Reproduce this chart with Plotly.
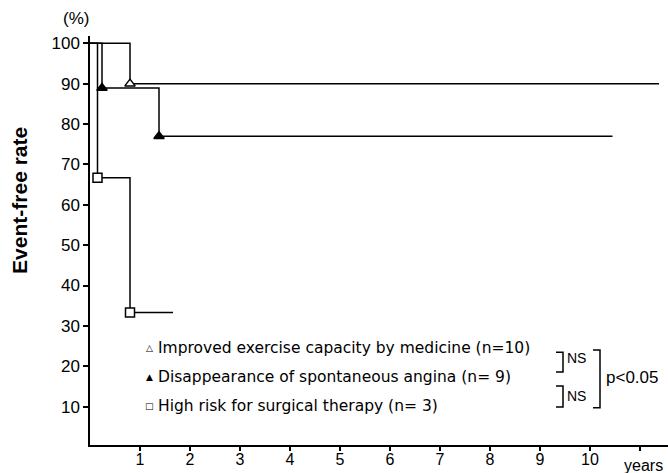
import plotly.graph_objects as go

# ---- data ----
improved_times = [0.8]
improved_rates = [90.0]
improved_end = 11.38

angina_times = [0.24, 1.38]
angina_rates = [88.9, 77.0]
angina_end = 10.45

highrisk_times = [0.15, 0.8]
highrisk_rates = [66.7, 33.3]
highrisk_end = 1.66

x_tick_vals = [1, 2, 3, 4, 5, 6, 7, 8, 9, 10, 11]
x_tick_text = ["1", "2", "3", "4", "5", "6", "7", "8", "9", "10", ""]
y_tick_vals = [10, 20, 30, 40, 50, 60, 70, 80, 90, 100]

legend_labels = [
    "Improved exercise capacity by medicine (n=10)",
    "Disappearance of spontaneous angina (n= 9)",
    "High risk for surgical therapy (n= 3)",
]
legend_symbols = ["△", "▲", "□"]

FONT = "Liberation Sans, Arial, Helvetica, sans-serif"
LFONT = "DejaVu Sans, Verdana, sans-serif"

fig = go.Figure()


def add_series(times, rates, end, symbol, fill):
    xs = [0] + times + [end]
    ys = [100] + rates + [rates[-1]]
    fig.add_trace(go.Scatter(x=xs, y=ys, mode="lines", line=dict(color="black", width=1.5, shape="hv"),
                             showlegend=False, hoverinfo="skip"))
    fig.add_trace(go.Scatter(x=times, y=rates, mode="markers",
                             marker=dict(symbol=symbol, size=9, color=fill, line=dict(color="black", width=1.5)),
                             showlegend=False))


add_series(highrisk_times, highrisk_rates, highrisk_end, "square", "white")
add_series(angina_times, angina_rates, angina_end, "triangle-up", "black")
add_series(improved_times, improved_rates, improved_end, "triangle-up", "white")

annotations = []
# legend texts
leg_y = [24.5, 17.3, 10.1]
for sym, lab, yy in zip(legend_symbols, legend_labels, leg_y):
    annotations.append(dict(x=1.18, y=yy, xref="x", yref="y", text=sym, showarrow=False,
                            xanchor="center", yanchor="middle", font=dict(family=LFONT, size=9, color="black")))
    annotations.append(dict(x=1.32, y=yy, xref="x", yref="y", text=lab, showarrow=False,
                            xanchor="left", yanchor="middle", font=dict(family=LFONT, size=15.5, color="black")))

# significance labels
annotations.append(dict(x=9.5, y=22.0, xref="x", yref="y", text="NS", showarrow=False, xanchor="left",
                        yanchor="middle", font=dict(family=FONT, size=14, color="black")))
annotations.append(dict(x=9.5, y=12.6, xref="x", yref="y", text="NS", showarrow=False, xanchor="left",
                        yanchor="middle", font=dict(family=FONT, size=14, color="black")))
annotations.append(dict(x=10.28, y=17.3, xref="x", yref="y", text="p<0.05", showarrow=False, xanchor="left",
                        yanchor="middle", font=dict(family=FONT, size=17, color="black")))

# axis texts
annotations.append(dict(x=-0.024, y=1.044, xref="paper", yref="paper", text="(%)", showarrow=False,
                        xanchor="center", yanchor="middle", font=dict(family=FONT, size=17, color="black")))
annotations.append(dict(x=0.958, y=-0.05, xref="paper", yref="paper", text="years", showarrow=False,
                        xanchor="center", yanchor="middle", font=dict(family=FONT, size=16, color="black")))
annotations.append(dict(x=-0.121, y=0.597, xref="paper", yref="paper", text="<b>Event-free rate</b>",
                        showarrow=False, textangle=-90, xanchor="center", yanchor="middle",
                        font=dict(family=FONT, size=21, color="black")))

shapes = []
def bracket(x, x_in, y0, y1):
    shapes.append(dict(type="path", xref="x", yref="y",
                       path=f"M {x_in},{y0} L {x},{y0} L {x},{y1} L {x_in},{y1}",
                       line=dict(color="black", width=1.5)))

bracket(9.46, 9.32, 23.5, 18.6)
bracket(9.46, 9.32, 15.1, 9.9)
bracket(10.2, 10.06, 24.0, 9.7)

fig.update_layout(
    width=668, height=473,
    margin=dict(l=90, r=0, t=36, b=28),
    paper_bgcolor="white", plot_bgcolor="white",
    font=dict(family=FONT, color="black"),
    annotations=annotations, shapes=shapes,
    xaxis=dict(range=[0, 11.56], tickvals=x_tick_vals, ticktext=x_tick_text, showgrid=False, zeroline=False,
               showline=True, linecolor="black", linewidth=1.5, ticks="outside", ticklen=4, tickwidth=1.5,
               tickcolor="black", tickfont=dict(size=16, family=FONT), ticklabelstandoff=-5),
    yaxis=dict(range=[0.5, 101.8], tickvals=y_tick_vals, showgrid=False, zeroline=False,
               showline=True, linecolor="black", linewidth=1.5, ticks="outside", ticklen=5, tickwidth=1.5,
               tickcolor="black", tickfont=dict(size=17, family=FONT)),
)

fig.write_html("out.html", config={"displayModeBar": False},
               post_script="document.body.style.margin='0px';document.body.style.overflow='hidden';")
